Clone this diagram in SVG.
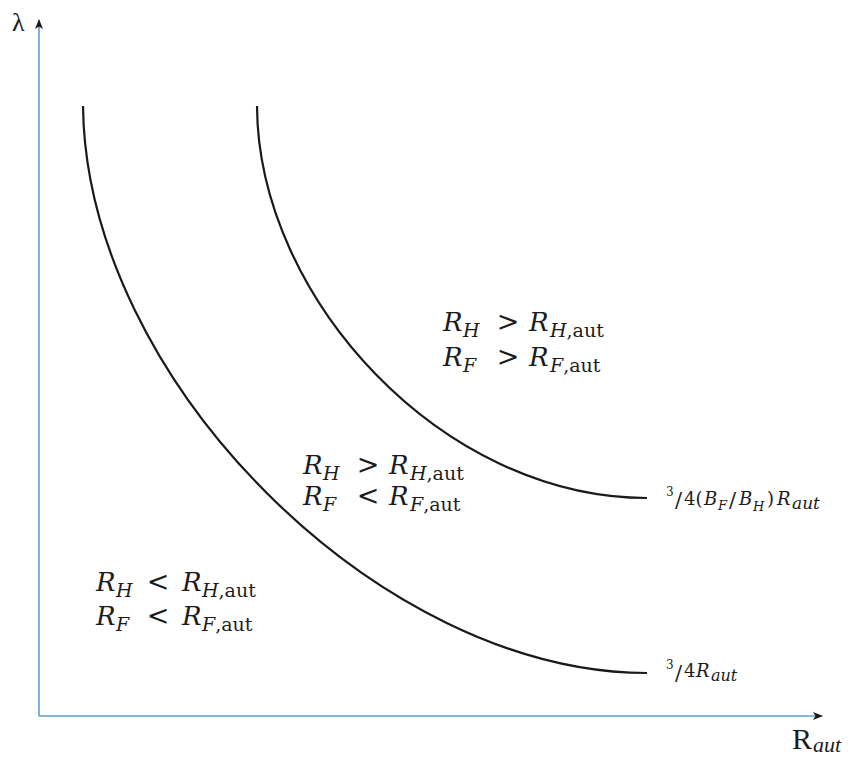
<svg xmlns="http://www.w3.org/2000/svg" width="851" height="758" viewBox="0 0 851 758">
<style>
  text { font-family: "DejaVu Serif", "Liberation Serif", serif; fill: #1c1c1c; }
  .m { font-style: italic; font-size: 26px; }
  .s { font-style: italic; font-size: 19px; }
  .u { font-style: normal; }
  .rel { font-size: 27px; text-anchor: middle; }
  .axis { stroke: #5b9fd2; stroke-width: 1.6; fill: none; }
  .curve { stroke: #1a1a1a; stroke-width: 2.2; fill: none; }
  .t { font-size: 18px; }
  .sl { font-size: 21px; }
  .ti { font-size: 18px; font-style: italic; }
  .tsup { font-size: 12px; }
  .tsub { font-size: 13px; font-style: italic; }
  .ax { font-family: "Liberation Serif", "DejaVu Serif", serif; }
</style>
<defs>
  <marker id="arr" viewBox="0 0 10 10" refX="9" refY="5" markerWidth="10" markerHeight="10" markerUnits="userSpaceOnUse" orient="auto">
    <path d="M0,1 L10,5 L0,9 L2.5,5 Z" fill="#1a1a1a"/>
  </marker>
</defs>
<rect width="851" height="758" fill="#ffffff"/>

<g id="connectors">
  <line id="y-axis" class="axis" x1="39" y1="716" x2="39" y2="20" marker-end="url(#arr)"/>
  <line id="x-axis" class="axis" x1="39" y1="716" x2="822" y2="716" marker-end="url(#arr)"/>
  <path id="curve-low" class="curve" d="M83,106 C86,380 380,673 647,673"/>
  <path id="curve-high" class="curve" d="M257,106 C258,298 442,498 647,498"/>
</g>

<g id="axis-labels">
  <text class="ax" x="12" y="31" style="font-size:26px">λ</text>
  <text class="ax" x="792" y="749" style="font-size:30px">R</text>
  <text class="ax" x="813" y="752" style="font-size:22px;font-style:italic">aut</text>
</g>

<g id="region-top" transform="translate(443,331)">
  <text class="m" x="0" y="0">R</text>
  <text class="s" x="20" y="6">H</text>
  <text class="rel" x="65" y="0">&gt;</text>
  <text class="m" x="86" y="0">R</text>
  <text class="s" x="107" y="6">H<tspan class="u">,aut</tspan></text>
  <text class="m" x="0" y="35">R</text>
  <text class="s" x="20" y="41">F</text>
  <text class="rel" x="65" y="35">&gt;</text>
  <text class="m" x="86" y="35">R</text>
  <text class="s" x="107" y="41">F<tspan class="u">,aut</tspan></text>
</g>

<g id="region-middle" transform="translate(303,474)">
  <text class="m" x="0" y="0">R</text>
  <text class="s" x="20" y="6">H</text>
  <text class="rel" x="65" y="0">&gt;</text>
  <text class="m" x="86" y="0">R</text>
  <text class="s" x="107" y="6">H<tspan class="u">,aut</tspan></text>
  <text class="m" x="0" y="31">R</text>
  <text class="s" x="20" y="37">F</text>
  <text class="rel" x="65" y="31">&lt;</text>
  <text class="m" x="86" y="31">R</text>
  <text class="s" x="107" y="37">F<tspan class="u">,aut</tspan></text>
</g>

<g id="region-bottom" transform="translate(96,591)">
  <text class="m" x="0" y="0">R</text>
  <text class="s" x="20" y="6">H</text>
  <text class="rel" x="62" y="0">&lt;</text>
  <text class="m" x="86" y="0">R</text>
  <text class="s" x="106" y="6">H<tspan class="u">,aut</tspan></text>
  <text class="m" x="0" y="34">R</text>
  <text class="s" x="20" y="40">F</text>
  <text class="rel" x="62" y="34">&lt;</text>
  <text class="m" x="86" y="34">R</text>
  <text class="s" x="106" y="40">F<tspan class="u">,aut</tspan></text>
</g>

<g id="label-high">
  <text class="tsup" x="666" y="496">3</text>
  <text class="sl" x="675" y="507">/</text>
  <text class="t" x="684" y="505">4(</text>
  <text class="ti" x="704" y="505">B</text>
  <text class="tsub" x="718" y="510">F</text>
  <text class="sl" x="729" y="507">/</text>
  <text class="ti" x="739" y="505">B</text>
  <text class="tsub" x="753" y="511">H</text>
  <text class="t" x="767" y="505">)</text>
  <text class="ti" x="777" y="505">R</text>
  <text class="tsub" x="792" y="509" style="font-size:17px">aut</text>
</g>

<g id="label-low">
  <text class="tsup" x="666" y="669">3</text>
  <text class="sl" x="675" y="680">/</text>
  <text class="t" x="684" y="677">4</text>
  <text class="ti" x="696" y="677">R</text>
  <text class="tsub" x="711" y="681" style="font-size:16px">aut</text>
</g>
</svg>
